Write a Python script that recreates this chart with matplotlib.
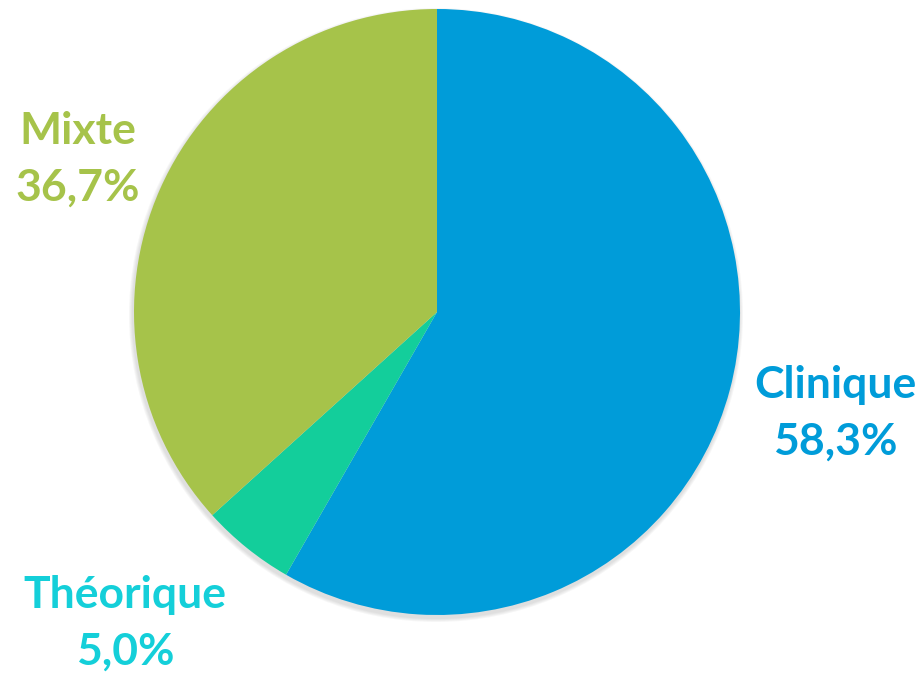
import matplotlib.pyplot as plt
from matplotlib.patches import Circle

categories = ['Clinique', 'Théorique', 'Mixte']
values = [58.3, 5.0, 36.7]
slice_colors = ['#009CD9', '#13CE9B', '#A6C34A']
label_colors = ['#009CD9', '#14CFD9', '#A6C34A']
label_pos = [(835, 413), (125, 623), (78, 159)]  # pixel centres, from top

W, H = 924, 673
fig = plt.figure(figsize=(W / 100, H / 100), dpi=100)
ax = fig.add_axes([0, 0, 1, 1])
ax.set_xlim(0, W)
ax.set_ylim(0, H)
ax.set_aspect('equal')
ax.axis('off')

cx, cy, r = 437, H - 312, 303

# soft shadow
for i, a in enumerate([0.05, 0.05, 0.05, 0.05]):
    ax.add_patch(Circle((cx - 1, cy - 3), r + 4 - i, color='#606060', alpha=a, lw=0, zorder=0))

ax.pie(values, colors=slice_colors, startangle=90, counterclock=False,
       center=(cx, cy), radius=r, frame=True,
       wedgeprops=dict(linewidth=0))
ax.set_xlim(0, W)
ax.set_ylim(0, H)
ax.axis('off')

for name, v, col, (x, y) in zip(categories, values, label_colors, label_pos):
    txt = f"{name}\n{v:.1f}%".replace('.', ',')
    ax.text(x, H - y, txt, ha='center', va='center', color=col,
            fontsize=32, fontweight='bold', family='Lato', linespacing=1.5)

fig.savefig('out.png', dpi=100)
